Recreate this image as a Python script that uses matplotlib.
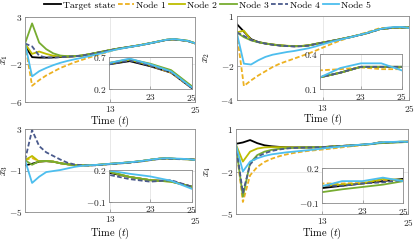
import matplotlib
matplotlib.use("Agg")
import matplotlib.pyplot as plt

plt.rcParams['font.family'] = 'serif'
plt.rcParams['font.serif'] = ['cmr10']
plt.rcParams['mathtext.fontset'] = 'cm'
plt.rcParams['axes.formatter.use_mathtext'] = True
plt.rcParams['axes.unicode_minus'] = True

t = list(range(1, 26))
labels = ['Target state', 'Node 1', 'Node 2', 'Node 3', 'Node 4', 'Node 5']

x1_target = [0.0, -1.25, -1.3, -1.3, -1.28, -1.24, -1.2, -1.16, -1.09, -0.96, -0.81, -0.66, -0.51, -0.37, -0.25, -0.13, -0.01, 0.13, 0.28, 0.44, 0.59, 0.64, 0.56, 0.46, 0.22]
x1_node1 = [0.2, -4.3, -3.7, -3.2, -2.8, -2.4, -2.1, -1.8, -1.55, -1.3, -1.08, -0.85, -0.62, -0.42, -0.27, -0.13, 0.0, 0.14, 0.29, 0.45, 0.61, 0.67, 0.57, 0.46, 0.22]
x1_node2 = [0.2, -0.9, -0.65, -0.9, -1.1, -1.18, -1.18, -1.15, -1.08, -0.95, -0.8, -0.65, -0.5, -0.36, -0.24, -0.12, 0.0, 0.14, 0.29, 0.45, 0.6, 0.66, 0.58, 0.49, 0.24]
x1_node3 = [0.2, 2.35, 0.3, -0.4, -0.85, -1.08, -1.15, -1.14, -1.07, -0.94, -0.79, -0.64, -0.49, -0.35, -0.23, -0.11, 0.01, 0.15, 0.3, 0.46, 0.61, 0.67, 0.6, 0.5, 0.25]
x1_node4 = [0.2, -0.1, -1.1, -1.3, -1.3, -1.25, -1.2, -1.16, -1.09, -0.96, -0.81, -0.66, -0.51, -0.37, -0.25, -0.13, -0.01, 0.13, 0.28, 0.44, 0.59, 0.65, 0.57, 0.47, 0.22]
x1_node5 = [0.2, -3.3, -2.75, -2.4, -2.1, -1.85, -1.65, -1.48, -1.32, -1.15, -0.98, -0.8, -0.6, -0.42, -0.28, -0.14, -0.01, 0.13, 0.29, 0.45, 0.61, 0.68, 0.59, 0.48, 0.23]

x2_target = [0.5, 0.05, -0.4, -0.57, -0.66, -0.72, -0.77, -0.8, -0.82, -0.81, -0.77, -0.68, -0.6, -0.52, -0.44, -0.35, -0.26, -0.16, -0.06, 0.07, 0.2, 0.24, 0.29, 0.29, 0.29]
x2_node1 = [0.0, -3.17, -2.84, -2.55, -2.3, -2.05, -1.85, -1.7, -1.55, -1.4, -1.25, -1.08, -0.9, -0.72, -0.55, -0.4, -0.27, -0.14, -0.01, 0.12, 0.26, 0.27, 0.285, 0.27, 0.27]
x2_node2 = [0.0, 0.1, -0.45, -0.57, -0.65, -0.71, -0.76, -0.79, -0.81, -0.8, -0.76, -0.68, -0.6, -0.52, -0.44, -0.35, -0.26, -0.16, -0.06, 0.07, 0.2, 0.24, 0.29, 0.29, 0.29]
x2_node3 = [0.0, -0.28, -0.47, -0.58, -0.66, -0.72, -0.77, -0.8, -0.82, -0.81, -0.77, -0.68, -0.6, -0.52, -0.44, -0.35, -0.26, -0.16, -0.06, 0.07, 0.2, 0.24, 0.29, 0.29, 0.29]
x2_node4 = [0.0, -0.2, -0.45, -0.57, -0.66, -0.73, -0.78, -0.81, -0.83, -0.82, -0.78, -0.69, -0.61, -0.53, -0.45, -0.36, -0.27, -0.17, -0.07, 0.06, 0.2, 0.24, 0.29, 0.29, 0.29]
x2_node5 = [0.0, -1.85, -1.9, -1.65, -1.45, -1.32, -1.24, -1.16, -1.1, -1.02, -0.94, -0.83, -0.7, -0.58, -0.47, -0.37, -0.27, -0.16, -0.05, 0.08, 0.2, 0.28, 0.32, 0.32, 0.26]

x3_target = [-0.5, -0.35, -0.15, -0.1, -0.15, -0.3, -0.4, -0.48, -0.5, -0.5, -0.47, -0.42, -0.36, -0.31, -0.26, -0.2, -0.13, -0.04, 0.06, 0.14, 0.17, 0.13, 0.1, 0.09, 0.04]
x3_node1 = [0.0, 0.2, -0.1, -0.1, -0.15, -0.3, -0.4, -0.48, -0.5, -0.5, -0.47, -0.42, -0.36, -0.31, -0.26, -0.2, -0.13, -0.04, 0.06, 0.14, 0.18, 0.13, 0.1, 0.09, 0.04]
x3_node2 = [0.0, 0.4, -0.15, -0.08, -0.14, -0.3, -0.4, -0.48, -0.5, -0.5, -0.47, -0.42, -0.36, -0.31, -0.26, -0.2, -0.13, -0.04, 0.06, 0.14, 0.18, 0.13, 0.1, 0.086, 0.04]
x3_node3 = [0.0, -0.45, -0.1, -0.08, -0.15, -0.3, -0.4, -0.48, -0.5, -0.5, -0.47, -0.42, -0.36, -0.31, -0.26, -0.2, -0.13, -0.04, 0.06, 0.14, 0.18, 0.13, 0.1, 0.086, 0.04]
x3_node4 = [0.0, 2.9, 1.35, 0.75, 0.4, 0.05, -0.25, -0.42, -0.5, -0.52, -0.5, -0.45, -0.39, -0.34, -0.29, -0.23, -0.16, -0.07, 0.03, 0.11, 0.15, 0.11, 0.086, 0.1, 0.04]
x3_node5 = [0.0, -2.2, -1.6, -1.15, -1.05, -0.95, -0.8, -0.65, -0.55, -0.5, -0.46, -0.41, -0.35, -0.3, -0.25, -0.19, -0.12, -0.03, 0.07, 0.15, 0.19, 0.16, 0.135, 0.095, 0.02]

x4_target = [-0.05, 0.05, 0.22, 0.0, -0.15, -0.22, -0.26, -0.29, -0.3, -0.3, -0.3, -0.29, -0.28, -0.25, -0.22, -0.19, -0.16, -0.13, -0.09, -0.05, 0.03, 0.05, 0.07, 0.09, 0.11]
x4_node1 = [-0.05, -4.15, -2.27, -1.68, -1.33, -1.1, -0.93, -0.8, -0.7, -0.62, -0.55, -0.5, -0.45, -0.4, -0.34, -0.28, -0.22, -0.17, -0.12, -0.06, 0.07, 0.07, 0.075, 0.1, 0.1]
x4_node2 = [-0.05, -1.3, -0.6, -0.38, -0.3, -0.28, -0.28, -0.29, -0.3, -0.3, -0.3, -0.29, -0.28, -0.25, -0.22, -0.19, -0.16, -0.13, -0.09, -0.05, 0.05, 0.06, 0.07, 0.11, 0.1]
x4_node3 = [-0.05, -3.78, -1.4, -0.84, -0.6, -0.47, -0.4, -0.36, -0.33, -0.31, -0.3, -0.29, -0.28, -0.25, -0.23, -0.2, -0.17, -0.14, -0.1, -0.06, -0.005, 0.02, 0.04, 0.06, 0.09]
x4_node4 = [-0.05, -3.5, -1.5, -0.96, -0.72, -0.55, -0.45, -0.38, -0.34, -0.32, -0.31, -0.3, -0.28, -0.25, -0.22, -0.19, -0.16, -0.13, -0.09, -0.05, 0.05, 0.05, 0.07, 0.08, 0.1]
x4_node5 = [-0.05, -2.0, -1.3, -1.07, -0.9, -0.79, -0.72, -0.65, -0.6, -0.55, -0.5, -0.45, -0.38, -0.32, -0.27, -0.22, -0.17, -0.12, -0.08, -0.04, 0.045, 0.09, 0.09, 0.12, 0.09]

ylims = [(-6, 3), (-4, 1), (-5, 3), (-5, 1)]
yticks = [[-6, -2, 3], [-4, -2, 1], [-5, -1, 3], [-5, -2, 1]]
inset_ylims = [(0.2, 0.7), (0.1, 0.4), (-0.1, 0.2), (-0.1, 0.2)]
ylabels = [r'$x_1$', r'$x_2$', r'$x_3$', r'$x_4$']

colors = ['#000000', '#EDB120', '#BDBD00', '#77AC30', '#4A5A8C', '#4DBEEE']
styles = ['-', (0, (2.6, 1.3)), '-', '-', (0, (2.6, 1.3)), '-']

W, H = 415, 240
fig = plt.figure(figsize=(W / 100, H / 100), dpi=100)

def rect(x0, y0, x1, y1):
    return [x0 / W, 1 - y1 / H, (x1 - x0) / W, (y1 - y0) / H]

main_px = [(25, 17.3, 195, 101.7), (236.7, 15.5, 409, 100), (25, 129, 195, 212), (235.7, 129, 408.3, 214)]
inset_px = [(109, 57.3, 191.7, 89.3), (320, 54, 401.7, 89), (109, 169.5, 191.5, 201.5), (321.7, 168.3, 403.3, 203.3)]
ylabel_right_px = [10, 212, 9.5, 213]
xlabel_top_px = [114, 112, 225.5, 225.5]

data = [
    [x1_target, x1_node1, x1_node2, x1_node3, x1_node4, x1_node5],
    [x2_target, x2_node1, x2_node2, x2_node3, x2_node4, x2_node5],
    [x3_target, x3_node1, x3_node2, x3_node3, x3_node4, x3_node5],
    [x4_target, x4_node1, x4_node2, x4_node3, x4_node4, x4_node5],
]

frame_col = '#8a8a8a'

def style_axes(ax):
    for s in ax.spines.values():
        s.set_color(frame_col)
        s.set_linewidth(0.6)
    ax.tick_params(direction='in', length=2, width=0.5, color=frame_col,
                   labelsize=6.8, pad=1.8, labelcolor='#262626', top=False, right=False)
    ax.grid(True, color='#dedede', linewidth=0.5)
    ax.set_axisbelow(True)

handles = []
for i in range(4):
    x0, y0, x1, y1 = main_px[i]
    ax = fig.add_axes(rect(*main_px[i]))
    style_axes(ax)
    for j in range(6):
        ln, = ax.plot(t, data[i][j], color=colors[j], linestyle=styles[j], linewidth=1.3)
        if i == 0:
            handles.append(ln)
    ax.set_xlim(1, 25)
    ax.set_ylim(*ylims[i])
    ax.set_xticks([13, 25])
    ax.set_yticks(yticks[i])
    ax.set_xlabel(r'Time ($t$)', fontsize=7.5)
    ax.xaxis.set_label_coords(0.5, (y1 - xlabel_top_px[i]) / (y1 - y0))
    ax.set_ylabel(ylabels[i], fontsize=7.5)
    ax.yaxis.set_label_coords((ylabel_right_px[i] - x0) / (x1 - x0), 0.5)

    ins = fig.add_axes(rect(*inset_px[i]))
    style_axes(ins)
    ins.set_facecolor('white')
    for j in range(6):
        ins.plot(t, data[i][j], color=colors[j], linestyle=styles[j], linewidth=1.3)
    ins.set_xlim(21, 25)
    ins.set_ylim(*inset_ylims[i])
    ins.set_xticks([23, 25])
    ins.set_yticks(list(inset_ylims[i]))

fig.legend(handles, labels, loc='center', bbox_to_anchor=(0.5, 1 - 5.5 / H), ncol=6,
           frameon=False, fontsize=7, handlelength=1.7, handletextpad=0.2,
           columnspacing=0.3, borderaxespad=0, borderpad=0)

fig.savefig('out.png', dpi=100)
